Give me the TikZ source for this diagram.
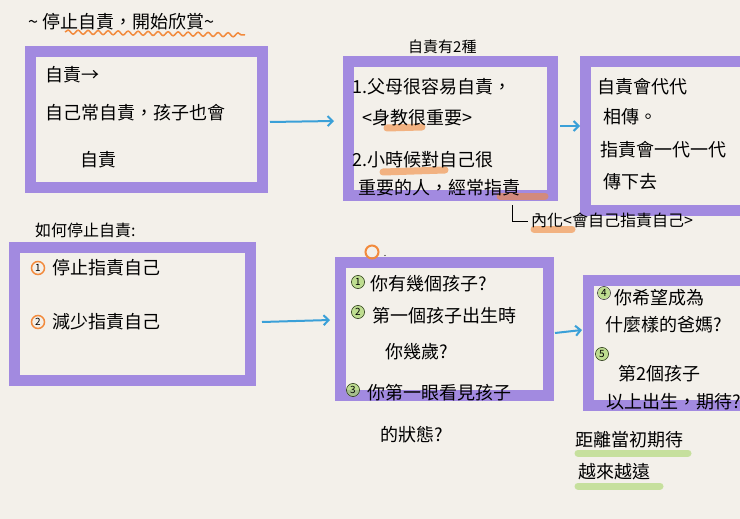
\documentclass[tikz,border=0pt]{standalone}
\usepackage{fontspec}
\setmainfont{Noto Sans CJK TC}
\usetikzlibrary{arrows.meta,decorations.pathmorphing}
\definecolor{paper}{HTML}{F3F0EA}
\definecolor{purp}{HTML}{9A80E0}
\definecolor{blu}{HTML}{3AA0D8}
\definecolor{org}{HTML}{F28A3C}
\definecolor{grn}{HTML}{A8D66A}
\tikzset{
  box/.style={draw=purp,line width=11pt,opacity=0.9},
  arr/.style={draw=blu,line width=2pt,-{Straight Barb[length=5pt]}},
  txt/.style={anchor=west,font=\fontsize{18}{20}\selectfont,inner sep=0pt},
  hl/.style={line width=7pt,opacity=0.6,line cap=round},
  num/.style={circle,inner sep=0pt,minimum size=13pt,font=\fontsize{10}{10}\selectfont,draw=black,thin}
}
\begin{document}
\begin{tikzpicture}[x=1pt,y=-1pt]
\fill[paper] (0,0) rectangle (740,519);
\useasboundingbox (0,0) rectangle (740,519);
\clip (0,0) rectangle (740,519);
% title
\draw[org,line width=1.5pt,decorate,decoration={snake,amplitude=2pt,segment length=10pt}] (65,32) -- (245,35);
\node[txt] (title) at (28,22) {\textasciitilde\ 停止自責，開始欣賞\textasciitilde};
% boxes
\draw[box] (30,52) rectangle (262,187);
\coordinate (b1e) at (270,122);
\draw[box] (348,62) rectangle (552,195);
\coordinate (b2w) at (334,121);
\coordinate (b2e) at (560,126);
\draw[box] (585,62) rectangle (760,210);
\coordinate (b3w) at (580,126);
\draw[box] (14,247) rectangle (250,380);
\coordinate (b4e) at (262,322);
\draw[box] (340,262) rectangle (548,395);
\coordinate (b5w) at (330,320);
\coordinate (b5e) at (555,333);
\draw[box] (588,280) rectangle (760,405);
\coordinate (b6w) at (582,330);
% arrows
\draw[arr] (b1e) -- (b2w);
\draw[arr] (b2e) -- (b3w);
\draw[arr] (b4e) -- (b5w);
\draw[arr] (b5e) -- (b6w);
% box1 text
\node[txt] (t11) at (45,75) {自責→};
\node[txt] (t12) at (45,113) {自己常自責，孩子也會};
\node[txt] (t13) at (80,160) {自責};
% box2
\node[txt,font=\fontsize{15}{17}\selectfont] (l2) at (408,47) {自責有2種};
\draw[hl,org] (387,128) -- (422,127);
\draw[hl,org] (383,172) -- (445,170);
\draw[hl,org] (500,196) -- (545,196);
\node[txt] (t21) at (352,87) {1.父母很容易自責，};
\node[txt] (t22) at (362,118) {<身教很重要>};
\node[txt] (t23) at (352,160) {2.小時候對自己很};
\node[txt] (t24) at (358,188) {重要的人，經常指責};
\draw[thick] (512,205) |- (528,221);
\draw[hl,org] (534,229) -- (572,229);
\node[txt,font=\fontsize{16}{18}\selectfont] (t25) at (531,220) {內化<會自己指責自己>};
% box3
\node[txt] (t31) at (597,87) {自責會代代};
\node[txt] (t32) at (603,117) {相傳。};
\node[txt] (t33) at (600,150) {指責會一代一代};
\node[txt] (t34) at (603,182) {傳下去};
% box4
\node[txt,font=\fontsize{16}{18}\selectfont] (l4) at (35,230) {如何停止自責:};
\node[num,draw=org,line width=1.5pt] (n41) at (38,268) {1};
\node[txt] (t41) at (52,268) {停止指責自己};
\node[num,draw=org,line width=1.5pt] (n42) at (38,322) {2};
\node[txt] (t42) at (52,322) {減少指責自己};
% box5
\node[circle,draw=org,line width=2pt,minimum size=13pt,inner sep=0pt] (q) at (372,252) {};
\node[font=\small] (qd) at (385,256) {.};
\fill[grn,opacity=0.7] (358,282) circle (7pt) (358,312) circle (7pt) (353,390) circle (7pt);
\node[num] (n51) at (358,282) {1};
\node[txt] (t51) at (370,284) {你有幾個孩子?};
\node[num] (n52) at (358,312) {2};
\node[txt] (t52) at (372,316) {第一個孩子出生時};
\node[txt] (t53) at (385,352) {你幾歲?};
\node[num] (n53) at (353,390) {3};
\node[txt] (t54) at (367,393) {你第一眼看見孩子};
\node[txt] (t55) at (380,435) {的狀態?};
% box6
\fill[grn,opacity=0.7] (604,293) circle (6pt) (602,354) circle (7pt);
\node[num] (n64) at (604,293) {4};
\node[txt] (t61) at (614,298) {你希望成為};
\node[txt] (t62) at (605,325) {什麼樣的爸媽?};
\node[num] (n65) at (602,354) {5};
\node[txt] (t63) at (618,374) {第2個孩子};
\node[txt] (t64) at (606,402) {以上出生，期待?};
% bottom
\draw[hl,grn] (578,453) -- (688,453);
\draw[hl,grn] (578,486) -- (660,486);
\node[txt] (t71) at (575,440) {距離當初期待};
\node[txt] (t72) at (578,472) {越來越遠};
\end{tikzpicture}
\end{document}
